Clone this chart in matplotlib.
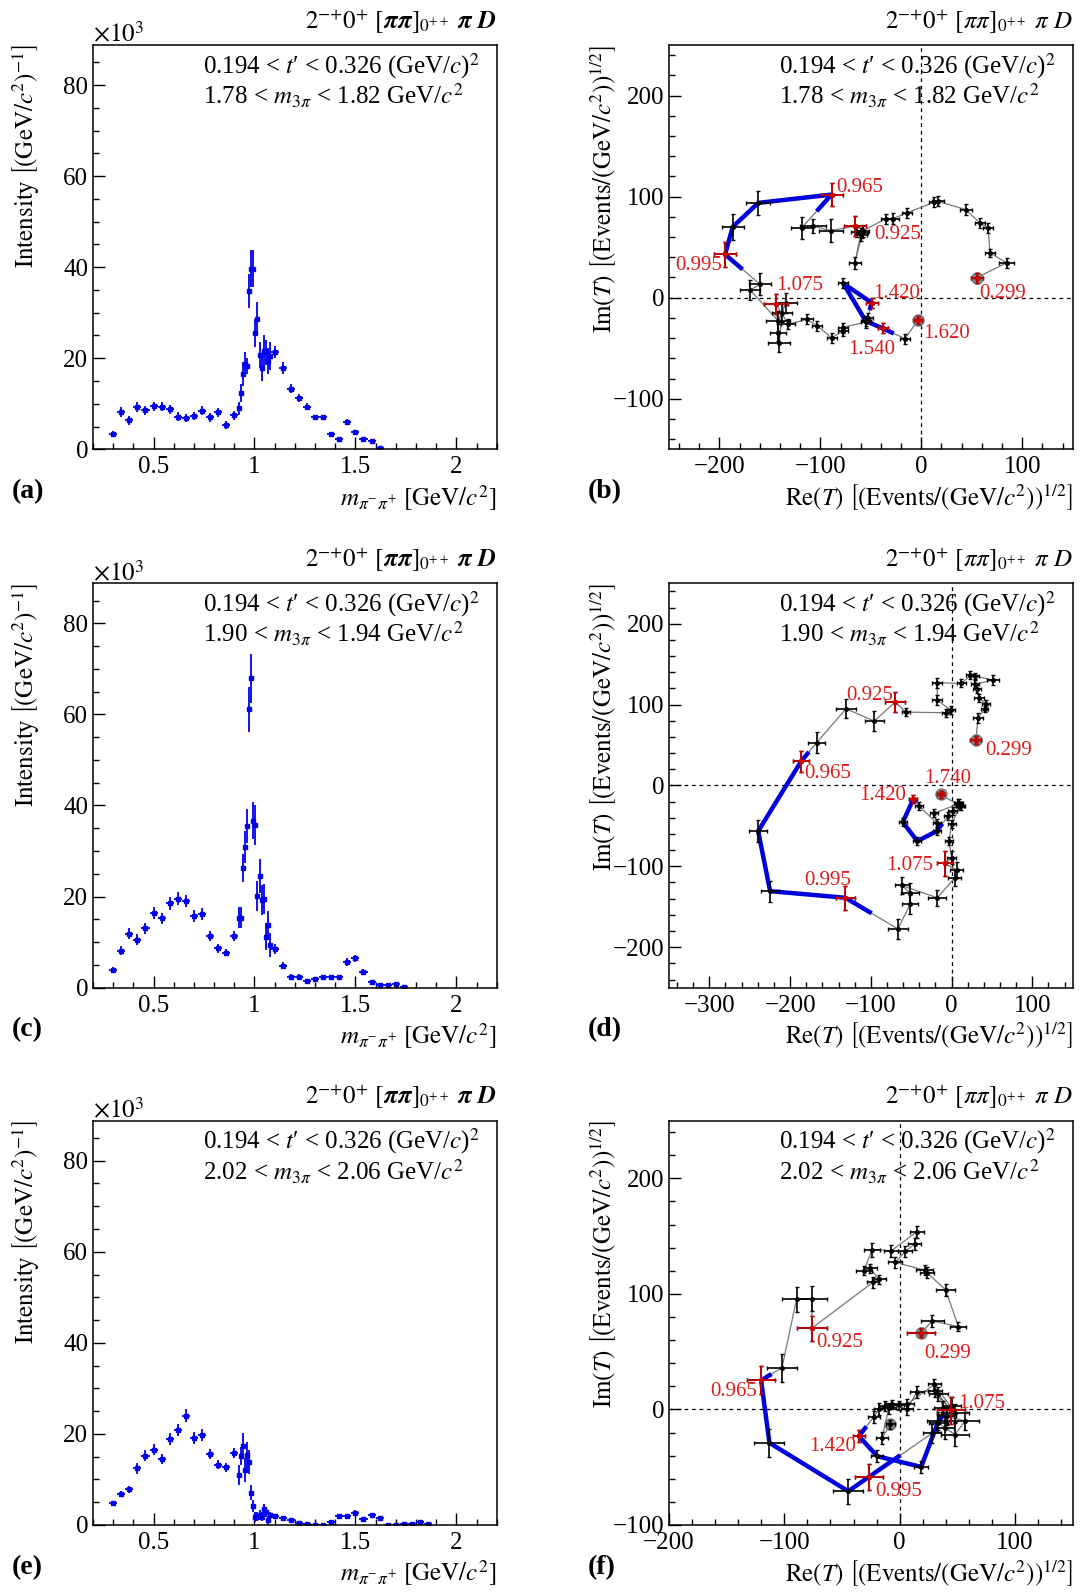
import matplotlib
matplotlib.use('Agg')
import matplotlib.pyplot as plt
import numpy as np
from matplotlib.ticker import MultipleLocator, FuncFormatter

plt.rcParams['font.family'] = ['Liberation Serif', 'DejaVu Serif']
plt.rcParams['mathtext.fontset'] = 'stix'

# m_pipi bin centres and half widths (GeV/c^2)
mass = [0.299, 0.34, 0.38, 0.42, 0.46, 0.50, 0.54, 0.58, 0.62, 0.66, 0.70, 0.74, 0.78, 0.82, 0.86, 0.90,
        0.925, 0.935, 0.945, 0.955, 0.965, 0.975, 0.985, 0.995, 1.005, 1.015, 1.025, 1.035, 1.045, 1.055, 1.065, 1.075,
        1.10, 1.14, 1.18, 1.22, 1.26, 1.30, 1.34, 1.38, 1.42, 1.46, 1.50, 1.54, 1.58, 1.62, 1.66, 1.70, 1.74, 1.78, 1.82, 1.86]
half_width = [0.021] + [0.02] * 15 + [0.005] * 16 + [0.02] * 20

# intensities (x10^3)
int_a = [3.4, 8.3, 6.4, 9.2, 8.6, 9.5, 9.4, 8.8, 7.2, 6.8, 7.3, 8.5, 7.0, 8.1, 5.3, 7.5,
         9.0, 12.3, 16.5, 18.7, 18.3, 34.8, 39.7, 39.7, 25.5, 28.6, 20.7, 17.9, 21.7, 21.3, 19.4, 20.5,
         21.3, 17.9, 13.3, 11.2, 9.4, 7.0, 7.0, 3.4, 2.3, 6.1, 3.7, 2.3, 1.8, 0.4]
err_a = [0.6, 1.1, 1.0, 1.1, 1.0, 1.0, 1.0, 1.0, 0.9, 0.9, 0.9, 1.0, 0.9, 1.0, 0.9, 1.0,
         1.5, 2.0, 2.6, 2.6, 1.8, 3.7, 4.0, 4.0, 3.1, 3.8, 2.9, 2.9, 3.3, 2.7, 2.9, 3.1,
         1.3, 1.3, 1.0, 0.9, 0.8, 0.6, 0.6, 0.5, 0.4, 0.6, 0.5, 0.4, 0.3, 0.2]

int_c = [3.9, 8.1, 11.8, 10.5, 13.0, 16.3, 15.2, 18.5, 19.5, 19.0, 15.8, 16.2, 11.3, 8.6, 7.7, 11.3,
         15.4, 15.4, 26.2, 30.9, 35.5, 61.1, 67.9, 36.7, 35.8, 20.1, 24.5, 19.3, 19.5, 11.2, 13.8, 9.4,
         8.4, 4.8, 2.4, 2.4, 1.5, 2.0, 2.4, 2.4, 2.4, 5.6, 6.4, 3.4, 1.2, 0.6, 0.6, 0.9, 0.15]
err_c = [0.7, 1.0, 1.2, 1.2, 1.2, 1.3, 1.3, 1.4, 1.4, 1.4, 1.3, 1.3, 1.1, 0.9, 0.8, 1.1,
         2.4, 2.4, 3.1, 3.5, 3.7, 5.0, 5.4, 4.1, 4.4, 3.3, 3.8, 3.3, 3.3, 2.9, 3.1, 2.6,
         1.1, 0.8, 0.5, 0.5, 0.4, 0.4, 0.4, 0.4, 0.4, 0.8, 0.8, 0.6, 0.3, 0.3, 0.3, 0.3, 0.2]

int_e = [4.8, 6.8, 7.8, 12.5, 15.2, 16.5, 14.5, 18.8, 20.8, 24.0, 19.1, 19.8, 15.5, 13.2, 12.7, 15.8,
         10.9, 15.2, 17.4, 12.1, 15.4, 13.9, 7.1, 4.2, 1.8, 1.8, 2.2, 1.8, 3.4, 2.9, 1.0, 2.1,
         2.0, 1.5, 1.2, 0.5, 0.15, 0.0, 0.0, 0.6, 2.0, 2.0, 2.7, 1.3, 2.1, 1.6, 0.1, 0.0, 0.2, 0.15, 0.7, 0.2]
err_e = [0.5, 0.7, 0.8, 1.2, 1.2, 1.2, 1.1, 1.3, 1.3, 1.4, 1.3, 1.3, 1.1, 1.0, 1.0, 1.2,
         2.2, 2.0, 2.7, 2.6, 2.9, 2.6, 1.6, 1.3, 1.1, 1.0, 1.0, 1.0, 1.2, 1.1, 0.9, 0.8,
         0.5, 0.4, 0.4, 0.3, 0.2, 0.2, 0.2, 0.3, 0.4, 0.4, 0.5, 0.3, 0.4, 0.3, 0.2, 0.2, 0.2, 0.2, 0.3, 0.2]

# Argand diagrams: Re(T), Im(T) per bin
re_b = [54.8, 84.5, 68.0, 66.3, 58.1, 43.9, 16.2, 12.9, -14.5, -27.7, -35.3, -57.4, -60.1, -65.7, -58.4, -64.0,
        -65.7, -89.8, -106.9, -118.5, -88.8, -161.4, -186.8, -194.4, -159.7, -169.6, -141.6, -134.0, -138.3, -140.6, -141.6, -143.9,
        -131.7, -113.5, -103.0, -88.8, -77.2, -77.9, -55.1, -53.1, -49.2, -77.2, -55.1, -38.3, -16.2, -3.0]
im_b = [19.7, 34.5, 44.4, 69.1, 74.0, 87.2, 95.4, 94.4, 83.9, 78.3, 78.0, 66.4, 62.5, 34.5, 64.1, 64.8,
        70.7, 66.4, 70.7, 69.1, 102.0, 93.8, 70.1, 42.8, 13.2, 7.6, -23.0, -4.9, -14.8, -44.4, -34.5, -6.6,
        -26.3, -21.4, -28.0, -39.5, -32.9, -29.6, -24.0, -19.7, -4.9, 14.1, -23.0, -30.3, -40.5, -22.0]
xe_b = [6, 7, 5, 5, 5, 6, 6, 5, 5, 6, 5, 6, 6, 6, 6, 6,
        11, 12, 13, 11, 11, 12, 11, 11, 11, 10, 12, 11, 10, 11, 8, 12,
        7, 6, 5, 5, 5, 5, 5, 5, 6, 5, 5, 5, 5, 4]
ye_b = [5, 5, 4, 5, 5, 5, 5, 5, 5, 5, 5, 6, 6, 6, 5, 5,
        10, 11, 7, 11, 11, 12, 13, 12, 11, 10, 10, 10, 9, 9, 8, 10,
        5, 5, 5, 5, 5, 5, 6, 5, 5, 5, 5, 5, 5, 4]

re_d = [30.0, 32.9, 41.1, 43.1, 34.1, 31.6, 28.8, 51.3, 28.8, 23.4, 12.3, -17.7, -17.7, -1.2, -7.0, -56.7,
        -69.8, -95.7, -130.6, -167.2, -186.1, -239.5, -224.7, -131.4, -66.5, -51.3, -51.3, -61.6, -17.7, 4.1, 6.2, -8.2,
        0.0, -3.3, 0.0, 10.3, 9.5, -21.8, -18.5, -40.3, -47.2, -60.4, -42.3, -18.5, -4.1, 1.2, 8.2, 11.1, -13.6]
im_d = [55.7, 83.7, 94.8, 100.2, 108.4, 119.6, 124.9, 130.3, 135.2, 136.1, 126.2, 127.0, 105.5, 93.2, 89.9, 90.7,
        103.1, 79.6, 94.8, 52.8, 30.1, -56.5, -130.7, -138.9, -177.3, -147.2, -132.8, -123.7, -138.9, -114.2, -104.7, -96.5,
        -89.5, -68.9, -48.2, -25.6, -22.3, -34.6, -46.2, -25.6, -16.5, -45.4, -68.9, -56.5, -37.9, -31.7, -21.4, -25.6, -11.1]
xe_d = [7, 6, 4, 5, 6, 5, 5, 8, 5, 5, 5, 6, 6, 5, 5, 5,
        12, 12, 12, 10, 10, 11, 11, 12, 12, 10, 11, 9, 11, 8, 8, 10,
        6, 5, 5, 5, 5, 5, 5, 5, 5, 5, 5, 5, 5, 5, 5, 5, 4]
ye_d = [5, 6, 4, 5, 5, 5, 5, 6, 4, 5, 5, 6, 6, 5, 5, 5,
        12, 12, 12, 13, 13, 14, 13, 15, 12, 12, 12, 10, 10, 10, 10, 15,
        8, 5, 5, 5, 5, 5, 5, 5, 5, 5, 5, 5, 5, 5, 5, 5, 4]

re_f = [18.7, 28.4, 50.9, 39.9, 23.6, 21.6, -3.7, 4.9, 12.9, 14.9, -7.2, -23.9, -31.0, -25.3, -18.1, -23.3,
        -76.1, -76.1, -89.4, -102.0, -120.1, -112.9, -44.5, -26.7, 27.9, 33.6, 48.0, 56.6, 40.8, 37.9, 33.6, 44.5,
        30.7, 14.9, 6.3, -0.9, -6.6, -12.9, -17.5, -22.4, -35.3, -19.5, 18.7, 33.6, 45.1, 39.4, 48.0, 30.2, 6.3, -9.5, -15.2, -8.0]
im_f = [66.5, 76.6, 71.7, 103.5, 118.5, 120.6, 127.2, 136.7, 143.1, 153.8, 137.3, 138.2, 120.0, 122.0, 112.7, 109.9,
        70.3, 96.0, 95.4, 36.1, 25.2, -28.9, -70.8, -58.4, -20.8, -11.6, -21.7, -10.1, -5.8, 1.4, 13.0, -0.9,
        15.9, 15.0, 0.0, 3.5, 4.3, 2.9, 0.6, -6.4, -23.1, -40.5, -49.7, -10.1, 2.9, -15.9, -2.9, 21.7, 4.3, 0.9, -24.6, -13.0]
xe_f = [12, 10, 7, 8, 6, 7, 6, 6, 6, 6, 6, 7, 7, 6, 6, 5,
        13, 13, 13, 13, 12, 13, 13, 12, 8, 8, 12, 12, 8, 8, 8, 12,
        6, 6, 5, 5, 5, 5, 5, 5, 5, 5, 6, 10, 8, 8, 12, 6, 6, 6, 5, 4]
ye_f = [4, 5, 4, 5, 5, 4, 5, 5, 5, 5, 5, 6, 4, 4, 4, 5,
        11, 11, 11, 12, 12, 12, 11, 11, 8, 8, 10, 8, 8, 6, 6, 12,
        5, 5, 5, 4, 4, 4, 5, 5, 5, 5, 5, 8, 8, 10, 8, 5, 5, 5, 5, 4]

# labelled bins and highlighted mass ranges
lab_b = [0.299, 0.925, 0.965, 0.995, 1.075, 1.420, 1.540, 1.620]
lab_d = [0.299, 0.925, 0.965, 0.995, 1.075, 1.420, 1.740]
lab_f = [0.299, 0.925, 0.965, 0.995, 1.075, 1.420]
blue_ranges = [(0.96, 1.00), (1.40, 1.56)]

m3pi_bins = [('1.78', '1.82'), ('1.90', '1.94'), ('2.02', '2.06')]

# label offsets in pixels (dx, dy, ha)
off_b = {0.299: (3, -20, 'left'), 0.925: (19, -13, 'left'), 0.965: (5, 3, 'left'), 0.995: (-3, -16, 'right'),
         1.075: (0, 14, 'left'), 1.420: (2, 5, 'left'), 1.540: (-11, -26, 'center'), 1.620: (5, -18, 'left')}
off_d = {0.299: (9, -15, 'left'), 0.925: (-2, 2, 'right'), 0.965: (3, -17, 'left'), 0.995: (-18, 13, 'center'),
         1.075: (-12, -7, 'right'), 1.420: (-7, -1, 'right'), 1.740: (7, 11, 'center')}
off_f = {0.299: (3, -25, 'left'), 0.925: (4, -19, 'left'), 0.965: (-4, -16, 'right'), 0.995: (6, -19, 'left'),
         1.075: (7, 2, 'left'), 1.420: (-3, -15, 'right')}

FS = 18
PX = 72. / 100.


def style_axes(ax):
    ax.tick_params(which='both', direction='in', top=False, right=False, labelsize=FS, width=1.0)
    ax.tick_params(which='major', length=8.6)
    ax.tick_params(which='minor', length=4.3)
    ax.tick_params(axis='x', pad=5)
    ax.tick_params(axis='y', pad=3.5)
    for sp in ax.spines.values():
        sp.set_linewidth(1.1)


def common_text(ax, title, mbin, ylab, ylab_x, xlab, letter):
    ax.text(1.0, 1.04, title, transform=ax.transAxes, ha='right', va='baseline', fontsize=FS)
    ax.text(0.272, 0.930, "0.194 < $t$\u2032 < 0.326 (GeV/$c$)$^{2}$", transform=ax.transAxes,
            ha='left', va='baseline', fontsize=FS)
    ax.text(0.272, 0.852, '%s < $m_{3\\pi}$ < %s GeV/$c^{2}$' % mbin, transform=ax.transAxes,
            ha='left', va='baseline', fontsize=FS)
    ax.text(ylab_x, 1.0, ylab, transform=ax.transAxes, rotation=90, rotation_mode='anchor',
            ha='right', va='center', fontsize=FS)
    ax.text(1.0, -0.12, xlab, transform=ax.transAxes, ha='right', va='center', fontsize=FS)
    ax.text(-0.2, -0.105, letter, transform=ax.transAxes, ha='left', va='center', fontsize=20, fontweight='bold')


def intensity_panel(ax, vals, errs, mbin, letter):
    n = len(vals)
    ax.errorbar(mass[:n], vals, xerr=half_width[:n], yerr=errs, fmt='s', ms=2.2, color='#0000ee',
                ecolor='#0000ee', elinewidth=1.3, capsize=0)
    ax.set_xlim(0.2, 2.2)
    ax.set_ylim(0, 88.8)
    ax.xaxis.set_major_locator(MultipleLocator(0.5))
    ax.xaxis.set_minor_locator(MultipleLocator(0.1))
    ax.yaxis.set_major_locator(MultipleLocator(20))
    ax.yaxis.set_minor_locator(MultipleLocator(5))
    ax.xaxis.set_major_formatter(FuncFormatter(lambda v, p: '%g' % v))
    style_axes(ax)
    ax.text(0.0, 1.006, r'$\times10^{3}$', transform=ax.transAxes, ha='left', va='baseline', fontsize=FS)
    title = r'$2^{-{+}}0^{+}\ [\boldsymbol{\pi\pi}]_{0^{++}}\ \boldsymbol{\pi}\ \boldsymbol{D}$'
    common_text(ax, title, mbin,
                r'$\mathrm{Intensity}\ \left[(\mathrm{GeV}/c^{2})^{-1}\right]$', -0.166,
                r'$m_{\pi^{-}\pi^{+}}\ \left[\mathrm{GeV}/c^{2}\right]$', letter)


def argand_panel(ax, re, im, xe, ye, labels, offsets, xlim, ylim, mbin, letter):
    n = len(re)
    m = np.array(mass[:n])
    idx = np.arange(n)
    re = np.array(re)
    im = np.array(im)
    ax.axhline(0, color='k', ls=(0, (3, 3)), lw=0.9, zorder=0)
    ax.axvline(0, color='k', ls=(0, (3, 3)), lw=0.9, zorder=0)
    ax.plot(re, im, color='#777777', lw=0.9, zorder=1)
    for m0, m1 in blue_ranges:
        t0, t1 = np.interp([m0, m1], m, idx)
        ts = np.concatenate([[t0], idx[(idx > t0) & (idx < t1)], [t1]])
        ax.plot(np.interp(ts, idx, re), np.interp(ts, idx, im), color='#0000dd', lw=3.2,
                solid_capstyle='butt', zorder=2)
    ax.plot([re[0], re[-1]], [im[0], im[-1]], 'o', ms=8, color='#808080', zorder=2.5)
    ax.errorbar(re, im, xerr=xe, yerr=ye, fmt='o', ms=2.6, color='k', elinewidth=1.2,
                capsize=1.6, capthick=1.0, zorder=3)
    for v in labels:
        i = int(np.argmin(np.abs(m - v)))
        ax.errorbar(re[i], im[i], xerr=xe[i], yerr=ye[i], fmt='o', ms=3, color='#cc0000',
                    elinewidth=1.3, capsize=1.6, capthick=1.0, zorder=5)
        dx, dy, ha = offsets[v]
        ax.annotate('%.3f' % mass[i], (re[i], im[i]), xytext=(dx * PX, dy * PX), textcoords='offset points',
                    ha=ha, va='baseline', color='#e01b1b', fontsize=15, zorder=6)
    ax.set_xlim(*xlim)
    ax.set_ylim(*ylim)
    ax.xaxis.set_major_locator(MultipleLocator(100))
    ax.xaxis.set_minor_locator(MultipleLocator(20))
    ax.yaxis.set_major_locator(MultipleLocator(100))
    ax.yaxis.set_minor_locator(MultipleLocator(20))
    style_axes(ax)
    title = r'$2^{-{+}}0^{+}\ [\pi\pi]_{0^{++}}\ \pi\ D$'
    common_text(ax, title, mbin,
                r'$\mathrm{Im}(T)\ \left[(\mathrm{Events}/(\mathrm{GeV}/c^{2}))^{1/2}\right]$', -0.162,
                r'$\mathrm{Re}(T)\ \left[(\mathrm{Events}/(\mathrm{GeV}/c^{2}))^{1/2}\right]$', letter)


fig = plt.figure(figsize=(10.8, 15.94), dpi=100)
bottoms = [0.7181, 0.3804, 0.0433]
W, H = 0.3738, 0.2537

ax = fig.add_axes([0.0861, bottoms[0], W, H])
intensity_panel(ax, int_a, err_a, m3pi_bins[0], '(a)')
ax = fig.add_axes([0.6194, bottoms[0], W, H])
argand_panel(ax, re_b, im_b, xe_b, ye_b, lab_b, off_b, (-250, 150), (-150, 250), m3pi_bins[0], '(b)')

ax = fig.add_axes([0.0861, bottoms[1], W, H])
intensity_panel(ax, int_c, err_c, m3pi_bins[1], '(c)')
ax = fig.add_axes([0.6194, bottoms[1], W, H])
argand_panel(ax, re_d, im_d, xe_d, ye_d, lab_d, off_d, (-350, 150), (-250, 250), m3pi_bins[1], '(d)')

ax = fig.add_axes([0.0861, bottoms[2], W, H])
intensity_panel(ax, int_e, err_e, m3pi_bins[2], '(e)')
ax = fig.add_axes([0.6194, bottoms[2], W, H])
argand_panel(ax, re_f, im_f, xe_f, ye_f, lab_f, off_f, (-200, 150), (-100, 250), m3pi_bins[2], '(f)')

fig.savefig('out.png', dpi=100)
